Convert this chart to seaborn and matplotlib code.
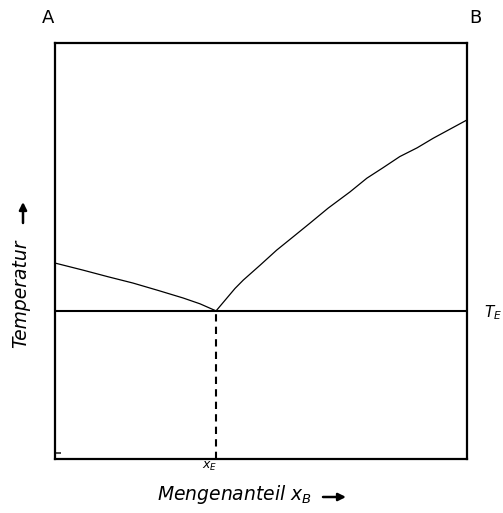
import matplotlib
matplotlib.use("Agg")
import matplotlib.pyplot as plt
import seaborn as sns
import pandas as pd

# liquidus curves (x = Mengenanteil, y = Temperatur, both 0..1)
left_x = [0.0, 0.068, 0.129, 0.189, 0.251, 0.311, 0.352, 0.391]
left_y = [0.471, 0.454, 0.438, 0.423, 0.405, 0.387, 0.373, 0.356]
right_x = [0.391, 0.437, 0.457, 0.498, 0.538, 0.578, 0.619, 0.663,
           0.716, 0.757, 0.796, 0.837, 0.879, 0.918, 0.959, 1.0]
right_y = [0.356, 0.410, 0.430, 0.466, 0.502, 0.534, 0.567, 0.603,
           0.642, 0.675, 0.700, 0.727, 0.748, 0.771, 0.793, 0.815]

x_E = 0.391
T_E = 0.356

sns.set_style("white")
plt.rcParams['font.family'] = ['DejaVu Sans']
plt.rcParams['mathtext.fontset'] = 'dejavusans'
plt.rcParams['text.color'] = 'black'

fig = plt.figure(figsize=(5.03, 5.13), dpi=100)
ax = fig.add_axes([0.1093, 0.1053, 0.8191, 0.8109])

left_df = pd.DataFrame({"x": left_x, "y": left_y})
right_df = pd.DataFrame({"x": right_x, "y": right_y})
sns.lineplot(data=left_df, x="x", y="y", ax=ax, color="black", lw=0.9, sort=False)
sns.lineplot(data=right_df, x="x", y="y", ax=ax, color="black", lw=0.9, sort=False)

# eutectic line and composition
ax.axhline(T_E, color="black", lw=1.5)
ax.plot([x_E, x_E], [0, T_E], color="black", lw=1.5, dashes=(3.5, 2.5))

ax.set_xlim(0, 1)
ax.set_ylim(0, 1)
ax.set_xticks([])
ax.set_yticks([0.015])
ax.set_yticklabels([])
ax.tick_params(axis="y", direction="in", length=4, width=1.2, left=True)
for s in ax.spines.values():
    s.set_color("black")
    s.set_linewidth(1.6)
ax.set_xlabel("")
ax.set_ylabel("")

# labels
fig.text(48 / 503, 1 - 18 / 513, "A", fontsize=13, ha="center", va="center")
fig.text(475 / 503, 1 - 18 / 513, "B", fontsize=13, ha="center", va="center")
fig.text(493 / 503, 1 - 313 / 513, "$T_E$", fontsize=11, ha="center", va="center")
fig.text(210 / 503, 1 - 466 / 513, "$x_E$", fontsize=9, ha="center", va="center")
fig.text(234 / 503, 1 - 495 / 513, r"Mengenanteil $x_B$", fontsize=13.5,
         ha="center", va="center", style="italic")
fig.text(21 / 503, 1 - 294 / 513, "Temperatur", fontsize=13.5,
         ha="center", va="center", rotation=90, style="italic")

# axis arrows
arrow = dict(arrowstyle="-|>", lw=1.8, color="black", mutation_scale=11, shrinkA=0, shrinkB=0)
fig.add_artist(matplotlib.patches.FancyArrowPatch((323 / 503, 1 - 497 / 513), (346 / 503, 1 - 497 / 513),
                                                  transform=fig.transFigure, **arrow))
fig.add_artist(matplotlib.patches.FancyArrowPatch((23 / 503, 1 - 223 / 513), (23 / 503, 1 - 202 / 513),
                                                  transform=fig.transFigure, **arrow))

plt.savefig("out.png", dpi=100)
